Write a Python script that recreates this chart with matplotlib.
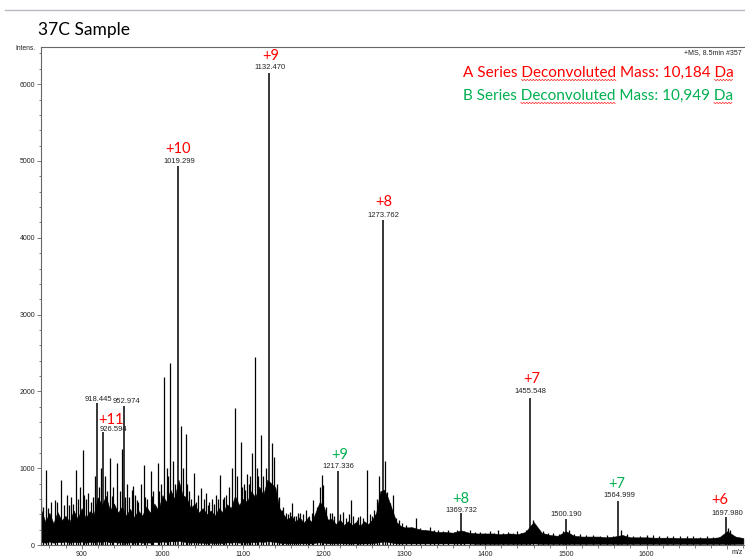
import numpy as np
import matplotlib.pyplot as plt
from matplotlib.lines import Line2D
from matplotlib.font_manager import FontProperties

# labelled peaks (m/z, intensity)
label_mz = [918.445, 926.594, 952.974, 1019.299, 1132.470, 1217.336,
            1273.762, 1369.732, 1455.548, 1500.190, 1564.999, 1697.980]
label_int = [1845, 1475, 1810, 4940, 6150, 967,
             4230, 415, 1920, 340, 577, 365]

# unlabelled sticks
peak_mz = [849.5, 852, 855.8, 858, 862, 867, 870, 874, 878, 881.4,
           884, 886.4, 889, 892.6, 895, 897.9, 901.2, 903, 905, 908.2,
           912, 914, 916, 921, 924, 929, 932, 935.1, 937, 939,
           943.4, 947, 950.5, 954, 956, 959, 962, 963.2, 966, 968,
           970, 973, 977.2, 979, 981, 985.5, 987, 989, 994.5, 996,
           998, 1002.4, 1005.5, 1007, 1009.8, 1013, 1016, 1022.7, 1025.5, 1029.2,
           1031, 1033, 1036, 1039.5, 1042, 1044, 1047.5, 1051, 1054, 1056,
           1058, 1062, 1064, 1066, 1069, 1071.4, 1075, 1077, 1079, 1083,
           1086, 1090.3, 1093, 1097, 1099, 1101, 1103, 1105.2, 1107, 1109,
           1111.5, 1114.4, 1117, 1119, 1121.8, 1125, 1128, 1135.5, 1138.3, 1142,
           1145, 1147.8, 1150, 1153, 1156, 1158, 1160.2, 1163, 1165, 1168,
           1170, 1174, 1177.9, 1180, 1182, 1185, 1187, 1192, 1195, 1197.4,
           1199.6, 1203, 1207.7, 1210, 1213, 1220, 1224.2, 1228, 1231, 1233.3,
           1236, 1240.8, 1243, 1245, 1249, 1253.2, 1257, 1260, 1262, 1266,
           1269, 1276, 1278.7, 1282, 1286.1, 1290, 1293, 1296.5, 1302, 1308,
           1313.9, 1319, 1325.4, 1331.6, 1336, 1341.9, 1348, 1354.3, 1361, 1365,
           1374, 1381.2, 1387, 1393.6, 1400, 1406, 1411, 1416.2, 1422, 1428.6,
           1434, 1439, 1445, 1451, 1459.6, 1465, 1472, 1478, 1484.4, 1491,
           1496, 1504, 1510, 1517.5, 1525, 1534, 1542, 1550.5, 1558, 1568,
           1575.3, 1583, 1591.8, 1600, 1608.3, 1616, 1624.9, 1633, 1641.4, 1650,
           1657.9, 1666, 1674.5, 1682, 1690, 1700.5, 1703, 1708]
peak_int = [610, 500, 977, 480, 560, 586, 560, 846, 520, 650,
            520, 630, 540, 977, 600, 759, 1237, 650, 600, 677,
            560, 620, 900, 760, 1000, 900, 700, 1130, 640, 760,
            1065, 700, 1250, 620, 800, 620, 716, 768, 650, 580,
            560, 800, 1042, 620, 600, 968, 640, 700, 1072, 700,
            800, 2192, 1000, 900, 2365, 1100, 800, 1550, 1000, 1445,
            800, 700, 600, 934, 560, 650, 740, 600, 677, 520,
            560, 600, 540, 650, 600, 911, 600, 620, 650, 750,
            1000, 1780, 900, 1345, 760, 800, 720, 924, 800, 900,
            1200, 2444, 1000, 900, 1432, 900, 1000, 1330, 1150, 800,
            620, 456, 500, 420, 400, 430, 551, 380, 380, 420,
            420, 400, 456, 360, 380, 420, 586, 500, 750, 911,
            781, 500, 417, 420, 380, 400, 434, 350, 400, 586,
            380, 325, 360, 380, 350, 977, 400, 380, 450, 600,
            900, 1100, 694, 550, 651, 350, 320, 280, 260, 230,
            350, 220, 200, 230, 190, 200, 180, 190, 170, 200,
            180, 200, 170, 170, 160, 180, 160, 200, 160, 170,
            160, 180, 160, 200, 330, 200, 180, 150, 150, 140,
            180, 200, 140, 140, 130, 130, 120, 130, 120, 200,
            140, 120, 120, 125, 130, 120, 120, 115, 120, 115,
            115, 110, 115, 110, 110, 220, 200, 120]

# dense baseline band, upper and lower edge
band_mz = [850, 855, 860, 865, 870, 875, 880, 885, 890, 895,
           900, 905, 910, 915, 920, 925, 930, 935, 940, 945,
           950, 955, 960, 965, 970, 975, 980, 985, 990, 995,
           1000, 1005, 1010, 1015, 1020, 1025, 1030, 1035, 1040, 1045,
           1050, 1055, 1060, 1065, 1070, 1075, 1080, 1085, 1090, 1095,
           1100, 1105, 1110, 1115, 1120, 1125, 1130, 1135, 1140, 1145,
           1150, 1155, 1160, 1165, 1170, 1175, 1180, 1185, 1190, 1195,
           1200, 1205, 1210, 1215, 1220, 1225, 1230, 1235, 1240, 1245,
           1250, 1255, 1260, 1265, 1270, 1275, 1280, 1285, 1290, 1295,
           1300, 1310, 1320, 1330, 1340, 1350, 1360, 1370, 1380, 1390,
           1400, 1410, 1420, 1430, 1440, 1450, 1460, 1470, 1480, 1490,
           1500, 1510, 1520, 1530, 1540, 1550, 1560, 1570, 1580, 1590,
           1600, 1610, 1620, 1630, 1640, 1650, 1660, 1670, 1680, 1690,
           1700, 1710, 1720]
band_hi = [450, 300, 420, 280, 430, 320, 380, 300, 450, 340,
           480, 350, 440, 400, 620, 520, 640, 450, 540, 420,
           500, 380, 470, 360, 450, 380, 500, 420, 540, 450,
           650, 560, 720, 600, 850, 650, 620, 480, 540, 420,
           480, 400, 450, 380, 480, 420, 530, 480, 640, 520,
           600, 560, 700, 620, 760, 650, 850, 800, 750, 480,
           400, 330, 380, 300, 360, 290, 350, 300, 430, 560,
           500, 330, 340, 270, 330, 260, 310, 260, 300, 250,
           310, 270, 330, 420, 700, 720, 600, 450, 300, 250,
           230, 230, 200, 190, 170, 170, 160, 190, 160, 150,
           150, 150, 140, 150, 140, 170, 300, 160, 130, 120,
           180, 120, 110, 110, 110, 100, 110, 130, 100, 100,
           100, 95, 95, 95, 90, 90, 90, 90, 90, 100,
           180, 110, 90]
band_lo = [40, 30, 45, 30, 40, 35, 45, 30, 40, 35,
           45, 30, 40, 35, 45, 40, 50, 35, 40, 30,
           40, 30, 35, 30, 40, 30, 35, 30, 40, 35,
           45, 40, 50, 45, 55, 45, 40, 30, 35, 30,
           30, 25, 30, 25, 30, 25, 35, 30, 40, 30,
           35, 30, 40, 35, 45, 40, 50, 45, 40, 30,
           25, 20, 25, 20, 25, 20, 25, 20, 30, 35,
           30, 20, 25, 20, 25, 20, 20, 20, 20, 20,
           20, 20, 25, 30, 40, 45, 40, 30, 20, 20,
           20, 20, 20, 20, 20, 20, 20, 20, 20, 15,
           15, 15, 15, 15, 15, 15, 20, 15, 15, 15,
           15, 15, 15, 15, 15, 15, 15, 15, 15, 15,
           15, 15, 15, 15, 15, 15, 15, 15, 15, 15,
           15, 15, 15]

# charge-state labels: text, m/z of the peak, colour
charge_txt = ['+11', '+10', '+9', '+8', '+7', '+6', '+9', '+8', '+7']
charge_mz = [926.594, 1019.299, 1132.470, 1273.762, 1455.548, 1697.980,
             1217.336, 1369.732, 1564.999]
charge_col = ['red'] * 6 + ['green'] * 3

RED = '#ff0000'
GREEN = '#00b050'
colours = {'red': RED, 'green': GREEN}

W, H = 745, 556
fig = plt.figure(figsize=(W / 100, H / 100), dpi=100)
fig.patch.set_facecolor('white')

# axes frame in pixel terms: left spine x=41, top y=47, bottom y=545
ax = fig.add_axes([41.3 / W, 1 - 545 / H, 1 - 41.3 / W, (545 - 47) / H])
ax.set_xlim(850, 850 + (W - 41.3) / 0.807)
ax.set_ylim(0, 6484)

ax.fill_between(band_mz, band_lo, band_hi, color='black', lw=0.4,
                edgecolor='black')
ax.vlines(peak_mz, 0, peak_int, color='black', lw=0.9)
ax.vlines(label_mz, 0, label_int, color='black', lw=1.1)

# m/z value labels: offsets (px) of the text centre from the peak top
num_off = {918.445: (1.5, 4), 926.594: (10, 2.7), 952.974: (2, 4.3),
           1019.299: (1, 4.5), 1132.470: (0.5, 5), 1217.336: (1, 4),
           1273.762: (0, 4.7), 1369.732: (1, 3), 1455.548: (0, 6),
           1500.190: (0.5, 4.7), 1564.999: (1.5, 4.7), 1697.980: (1.4, 3)}
chg_off = {926.594: (8, 12), 1019.299: (0, 16.7), 1132.470: (1.5, 17),
           1273.762: (0, 18), 1455.548: (2, 19), 1697.980: (-5.4, 17),
           1217.336: (1.5, 15.7), 1369.732: (0, 14), 1564.999: (-1.5, 16.7)}

px = 72 / 100  # points per pixel
for mz, h in zip(label_mz, label_int):
    dx, dy = num_off[mz]
    ax.annotate(f'{mz:.3f}', (mz, h), xytext=(dx * px, dy * px),
                textcoords='offset points', ha='center', va='center',
                fontsize=5.5, family='Liberation Sans', color='#222222')

heights = dict(zip(label_mz, label_int))
for t, mz, c in zip(charge_txt, charge_mz, charge_col):
    dx, dy = chg_off[mz]
    ax.annotate(t, (mz, heights[mz]), xytext=(dx * px, dy * px),
                textcoords='offset points', ha='center', va='center',
                fontsize=10.5, family='Lato', color=colours[c])

# axes styling
ax.spines['right'].set_visible(False)
for s in ['left', 'bottom', 'top']:
    ax.spines[s].set_color('#666666')
    ax.spines[s].set_linewidth(0.8)

ax.set_xticks([900, 1000, 1100, 1200, 1300, 1400, 1500, 1600, 1700])
ax.set_xticklabels(['900', '1000', '1100', '1200', '1300', '1400', '1500', '1600', ''])
ax.set_xticks(np.arange(860, 1721, 20), minor=True)
ax.set_yticks([0, 1000, 2000, 3000, 4000, 5000, 6000])
ax.set_yticks(np.arange(0, 6401, 200), minor=True)
ax.tick_params(which='both', direction='out', color='#666666', width=0.6,
               labelsize=5, labelcolor='#222222')
ax.tick_params(which='major', length=3, pad=1.5)
ax.tick_params(which='minor', length=1.8)
for lab in ax.get_xticklabels() + ax.get_yticklabels():
    lab.set_family('Liberation Sans')

fig.text(36 / W, 1 - 48 / H, 'Intens.', ha='right', va='center',
         fontsize=4.8, family='Liberation Sans', color='#222222')
fig.text(737 / W, 1 - 553 / H, 'm/z', ha='center', va='center',
         fontsize=5, family='Liberation Sans', color='#222222')
fig.text(742 / W, 1 - 52.5 / H, '+MS, 8.5min #357', ha='right', va='center',
         fontsize=5, family='Liberation Sans', color='#222222')

# slide header rule and title
fig.add_artist(Line2D([5 / W, 1], [1 - 10 / H, 1 - 10 / H],
                      transform=fig.transFigure, color='#b8b8c4', lw=1))
fig.text(38 / W, 1 - 30 / H, '37C Sample', ha='left', va='center',
         fontsize=12.5, family='Lato', color='black')

# deconvoluted masses
fp = FontProperties(family='Lato', size=11)
lines = [('A Series Deconvoluted Mass: 10,184 Da', RED, 77),
         ('B Series Deconvoluted Mass: 10,949 Da', GREEN, 100)]
x0 = 463
fig.canvas.draw()
rend = fig.canvas.get_renderer()


def width(s):
    t = fig.text(0, 0, s, fontproperties=fp)
    w = t.get_window_extent(rend).width
    t.remove()
    return w


for txt, col, base in lines:
    fig.text(x0 / W, 1 - base / H, txt, ha='left', va='baseline',
             fontproperties=fp, color=col)
    # wavy spell-check underline under two words
    for pre, word in [(txt.split('Deconvoluted')[0], 'Deconvoluted'),
                      (txt[:-2], 'Da')]:
        end = x0 + width(pre + word)
        start = end - width(word)
        xs = np.arange(start, end, 1.5)
        ys = base + 3 + np.where(np.arange(len(xs)) % 2 == 0, -0.7, 0.7)
        fig.add_artist(Line2D(xs / W, 1 - ys / H, transform=fig.transFigure,
                              color='#ff2020', lw=0.5))

fig.savefig('out.png', dpi=100)
